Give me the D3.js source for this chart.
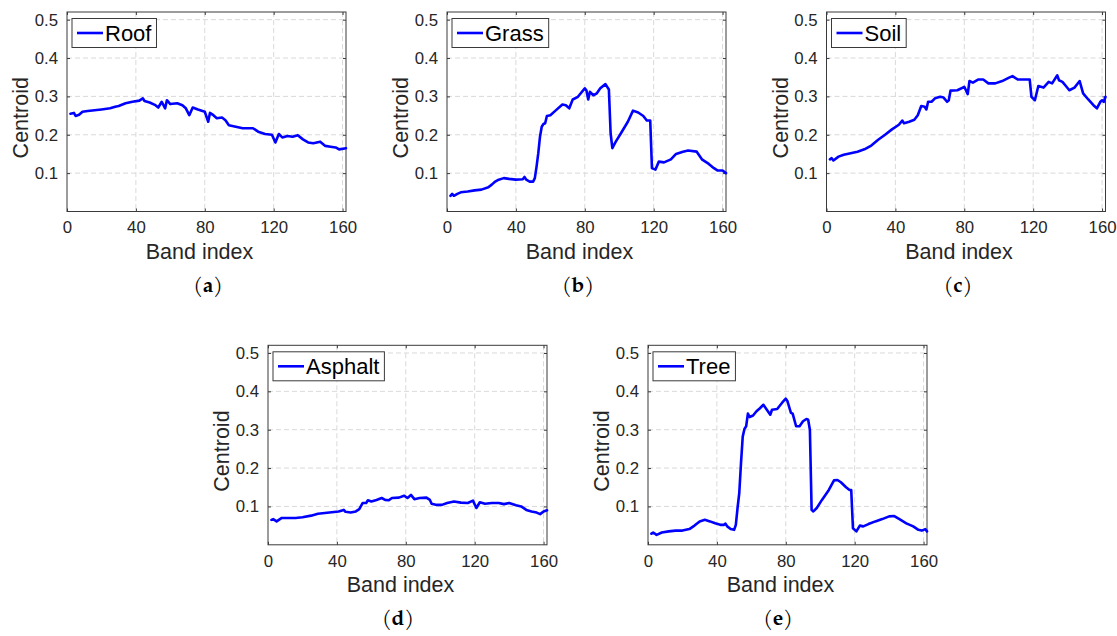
<!DOCTYPE html>
<html>
<head>
<meta charset="utf-8">
<script src="https://cdn.jsdelivr.net/npm/d3@7"></script>
<style>
  html, body { margin: 0; padding: 0; background: #fff; }
  svg { display: block; }
  .tick-label { font-family: "Liberation Sans", Arial, sans-serif; font-size: 16.8px; fill: #262626; }
  .axis-label { font-family: "Liberation Sans", Arial, sans-serif; font-size: 21.5px; fill: #262626; }
  .legend-text { font-family: "Liberation Sans", Arial, sans-serif; font-size: 22px; fill: #000; }
  .caption { font-family: "TeX Gyre Pagella", "Palatino Linotype", "Liberation Serif", serif; font-size: 21px; fill: #000; }
</style>
</head>
<body>
<div id="chart"></div>
<script>
// Band index / centroid pairs
const roof = [
  [2, 0.255], [4, 0.257], [5, 0.249], [7, 0.252], [9, 0.26], [12, 0.262], [16, 0.264], [20, 0.266],
  [25, 0.269], [28, 0.273], [30, 0.275], [34, 0.282], [38, 0.286], [42, 0.289], [44, 0.295], [45, 0.288],
  [48, 0.284], [51, 0.278], [53, 0.271], [55, 0.286], [57, 0.269], [58, 0.29], [60, 0.28], [64, 0.282],
  [67, 0.277], [69, 0.269], [71, 0.251], [73, 0.271], [76, 0.266], [80, 0.26], [82, 0.234], [83, 0.257],
  [85, 0.251], [87, 0.243], [90, 0.245], [92, 0.238], [94, 0.225], [98, 0.221], [102, 0.217], [106, 0.217],
  [108, 0.217], [111, 0.208], [115, 0.202], [119, 0.2], [121, 0.18], [123, 0.202], [125, 0.193], [128, 0.197],
  [131, 0.195], [134, 0.199], [137, 0.188], [140, 0.18], [143, 0.178], [147, 0.182], [150, 0.171], [153, 0.169],
  [156, 0.167], [158, 0.162], [162, 0.165]
];

const grass = [
  [2, 0.041], [3, 0.046], [4, 0.041], [6, 0.046], [8, 0.05], [12, 0.052], [16, 0.055], [20, 0.057],
  [24, 0.063], [26, 0.07], [28, 0.078], [30, 0.083], [33, 0.087], [36, 0.085], [40, 0.083], [44, 0.084],
  [45, 0.09], [46, 0.083], [48, 0.078], [50, 0.078], [51, 0.087], [52, 0.117], [53, 0.152], [54, 0.195],
  [55, 0.221], [56, 0.228], [57, 0.23], [58, 0.249], [60, 0.251], [63, 0.263], [67, 0.279], [69, 0.277],
  [71, 0.269], [73, 0.292], [76, 0.299], [80, 0.321], [81, 0.315], [82, 0.292], [83, 0.312], [85, 0.303],
  [87, 0.308], [89, 0.321], [92, 0.332], [94, 0.318], [95, 0.204], [96, 0.165], [98, 0.182], [101, 0.204],
  [105, 0.234], [108, 0.263], [111, 0.258], [114, 0.249], [116, 0.237], [118, 0.237], [119, 0.113], [121, 0.109],
  [123, 0.13], [126, 0.128], [130, 0.136], [133, 0.15], [137, 0.156], [140, 0.159], [145, 0.156], [148, 0.136],
  [152, 0.124], [155, 0.113], [157, 0.107], [160, 0.107], [162, 0.1]
];

const soil = [
  [2, 0.136], [3, 0.139], [4, 0.133], [7, 0.143], [10, 0.148], [14, 0.152], [18, 0.156], [22, 0.162],
  [26, 0.172], [30, 0.187], [34, 0.2], [38, 0.214], [42, 0.226], [44, 0.237], [45, 0.23], [48, 0.234],
  [51, 0.239], [53, 0.251], [55, 0.275], [57, 0.273], [58, 0.266], [59, 0.286], [61, 0.286], [63, 0.295],
  [66, 0.299], [68, 0.297], [70, 0.286], [71, 0.29], [72, 0.315], [76, 0.316], [80, 0.325], [82, 0.306],
  [83, 0.34], [85, 0.336], [88, 0.344], [91, 0.344], [94, 0.334], [98, 0.334], [102, 0.34], [106, 0.349],
  [108, 0.353], [111, 0.344], [115, 0.344], [118, 0.344], [119, 0.299], [121, 0.29], [123, 0.327], [126, 0.323],
  [129, 0.338], [131, 0.334], [134, 0.355], [135, 0.342], [137, 0.338], [139, 0.327], [141, 0.316], [144, 0.323],
  [147, 0.34], [149, 0.308], [152, 0.292], [155, 0.277], [157, 0.269], [159, 0.286], [160, 0.29], [161, 0.286],
  [162, 0.299]
];

const asphalt = [
  [2, 0.065], [3, 0.067], [5, 0.061], [8, 0.07], [12, 0.07], [16, 0.07], [20, 0.072], [25, 0.076],
  [29, 0.081], [33, 0.083], [37, 0.085], [41, 0.087], [44, 0.091], [45, 0.086], [48, 0.084], [51, 0.087],
  [53, 0.093], [55, 0.109], [57, 0.109], [58, 0.116], [60, 0.113], [63, 0.117], [66, 0.122], [68, 0.117],
  [70, 0.116], [72, 0.122], [76, 0.123], [79, 0.128], [81, 0.122], [83, 0.13], [85, 0.119], [88, 0.122],
  [92, 0.123], [94, 0.117], [95, 0.107], [98, 0.104], [101, 0.104], [104, 0.109], [108, 0.113], [112, 0.11],
  [116, 0.109], [119, 0.115], [121, 0.096], [123, 0.111], [126, 0.107], [130, 0.109], [134, 0.109], [137, 0.106],
  [140, 0.109], [144, 0.103], [147, 0.1], [150, 0.091], [153, 0.087], [156, 0.084], [158, 0.08], [160, 0.087],
  [162, 0.09]
];

const tree = [
  [2, 0.029], [3, 0.032], [5, 0.026], [8, 0.032], [12, 0.035], [16, 0.037], [20, 0.037], [24, 0.041],
  [27, 0.05], [30, 0.061], [33, 0.065], [36, 0.061], [39, 0.056], [42, 0.052], [44, 0.052], [45, 0.055],
  [46, 0.048], [48, 0.041], [50, 0.039], [51, 0.052], [52, 0.096], [53, 0.135], [54, 0.213], [55, 0.282],
  [56, 0.302], [57, 0.309], [58, 0.342], [59, 0.333], [61, 0.337], [63, 0.348], [65, 0.356], [67, 0.365],
  [69, 0.352], [71, 0.339], [72, 0.352], [75, 0.354], [78, 0.371], [80, 0.381], [81, 0.374], [83, 0.344],
  [84, 0.342], [86, 0.309], [88, 0.309], [90, 0.322], [92, 0.328], [93, 0.326], [94, 0.3], [95, 0.091],
  [96, 0.087], [98, 0.096], [101, 0.117], [105, 0.143], [108, 0.168], [110, 0.169], [112, 0.163], [115, 0.15],
  [117, 0.143], [118, 0.143], [119, 0.043], [121, 0.035], [123, 0.05], [125, 0.048], [128, 0.054], [132, 0.061],
  [136, 0.067], [140, 0.074], [143, 0.075], [146, 0.067], [150, 0.056], [154, 0.048], [157, 0.039], [159, 0.037],
  [161, 0.041], [162, 0.035]
];

const xTicks = [0, 40, 80, 120, 160];
const yTicks = [0.1, 0.2, 0.3, 0.4, 0.5];

const panels = [
  { name: 'Roof', data: roof, caption: 'a' },
  { name: 'Grass', data: grass, caption: 'b' },
  { name: 'Soil', data: soil, caption: 'c' },
  { name: 'Asphalt', data: asphalt, caption: 'd' },
  { name: 'Tree', data: tree, caption: 'e' }
];

// Layout
const CHART_CONFIG = {
  width: 1117,
  height: 636,
  plot: { width: 279, height: 199.5 },
  // top-left corner of each plot box and caption centre
  slots: [
    { x: 67, y: 12, cx: 208, cy: 292 },
    { x: 447, y: 12, cx: 578, cy: 292 },
    { x: 826.5, y: 12, cx: 958, cy: 292 },
    { x: 268, y: 345.3, cx: 398, cy: 625 },
    { x: 648, y: 345.3, cx: 778, cy: 625 }
  ],
  xDomain: [0, 162],
  yDomain: [0, 0.52],
  lineColor: '#0000ff',
  axisColor: '#3a3a3a',
  gridColor: '#d9d9d9'
};

const svg = d3.select('#chart').append('svg')
  .attr('width', CHART_CONFIG.width)
  .attr('height', CHART_CONFIG.height);

svg.append('rect')
  .attr('width', CHART_CONFIG.width)
  .attr('height', CHART_CONFIG.height)
  .attr('fill', '#fff');

function drawPanel(panel, slot) {
  const w = CHART_CONFIG.plot.width;
  const h = CHART_CONFIG.plot.height;

  const x = d3.scaleLinear().domain(CHART_CONFIG.xDomain).range([0, w]);
  const y = d3.scaleLinear().domain(CHART_CONFIG.yDomain).range([h, 0]);

  const g = svg.append('g')
    .attr('transform', `translate(${slot.x}, ${slot.y})`);

  // Grid lines
  g.append('g')
    .selectAll('line')
    .data(xTicks.filter(t => t > 0))
    .join('line')
    .attr('x1', d => x(d)).attr('x2', d => x(d))
    .attr('y1', 0).attr('y2', h)
    .attr('stroke', CHART_CONFIG.gridColor)
    .attr('stroke-width', 1)
    .attr('stroke-dasharray', '5,3');

  g.append('g')
    .selectAll('line')
    .data(yTicks)
    .join('line')
    .attr('x1', 0).attr('x2', w)
    .attr('y1', d => y(d)).attr('y2', d => y(d))
    .attr('stroke', CHART_CONFIG.gridColor)
    .attr('stroke-width', 1)
    .attr('stroke-dasharray', '5,3');

  // Axes with inward ticks on all four sides
  const styleAxis = sel => {
    sel.select('.domain').remove();
    sel.selectAll('.tick line').attr('stroke', CHART_CONFIG.axisColor);
  };

  g.append('g')
    .attr('transform', `translate(0, ${h})`)
    .call(d3.axisBottom(x).tickValues(xTicks).tickSize(-3).tickFormat(d3.format('d')))
    .call(styleAxis)
    .call(a => a.selectAll('.tick text').attr('class', 'tick-label').attr('font-size', null).attr('font-family', null)
      .attr('dy', null).attr('y', 21.8));

  g.append('g')
    .call(d3.axisTop(x).tickValues(xTicks).tickSize(-3).tickFormat(''))
    .call(styleAxis);

  g.append('g')
    .call(d3.axisLeft(y).tickValues(yTicks).tickSize(-3).tickPadding(9).tickFormat(d3.format('.1f')))
    .call(styleAxis)
    .call(a => a.selectAll('.tick text').attr('class', 'tick-label').attr('font-size', null).attr('font-family', null));

  g.append('g')
    .attr('transform', `translate(${w}, 0)`)
    .call(d3.axisRight(y).tickValues(yTicks).tickSize(-3).tickFormat(''))
    .call(styleAxis);

  g.selectAll('.tick text').attr('fill', null);

  // Box
  g.append('rect')
    .attr('width', w)
    .attr('height', h)
    .attr('fill', 'none')
    .attr('stroke', CHART_CONFIG.axisColor)
    .attr('stroke-width', 1);

  // Series line
  const line = d3.line()
    .x(d => x(d[0]))
    .y(d => y(d[1]));

  g.append('path')
    .datum(panel.data)
    .attr('d', line)
    .attr('fill', 'none')
    .attr('stroke', CHART_CONFIG.lineColor)
    .attr('stroke-width', 2.6)
    .attr('stroke-linejoin', 'round')
    .attr('stroke-linecap', 'round');

  // Legend
  const legend = g.append('g').attr('transform', 'translate(5, 6.5)');
  const box = legend.append('rect')
    .attr('height', 29)
    .attr('fill', '#fff')
    .attr('stroke', CHART_CONFIG.axisColor)
    .attr('stroke-width', 1);

  legend.append('line')
    .attr('x1', 5).attr('x2', 31)
    .attr('y1', 14.5).attr('y2', 14.5)
    .attr('stroke', CHART_CONFIG.lineColor)
    .attr('stroke-width', 2.6);

  const label = legend.append('text')
    .attr('class', 'legend-text')
    .attr('x', 33)
    .attr('y', 22.5)
    .text(panel.name);

  box.attr('width', 33 + label.node().getComputedTextLength() + 5);

  // Axis labels
  g.append('text')
    .attr('class', 'axis-label')
    .attr('text-anchor', 'middle')
    .attr('x', w / 2 - 7)
    .attr('y', h + 47)
    .text('Band index');

  g.append('text')
    .attr('class', 'axis-label')
    .attr('text-anchor', 'middle')
    .attr('transform', `translate(-39, ${h / 2 + 6}) rotate(-90)`)
    .text('Centroid');

  // Caption
  const cap = svg.append('text')
    .attr('class', 'caption')
    .attr('text-anchor', 'middle')
    .attr('x', slot.cx)
    .attr('y', slot.cy);
  cap.append('tspan').text('(');
  cap.append('tspan').attr('font-weight', 'bold').text(panel.caption);
  cap.append('tspan').text(')');
}

panels.forEach((p, i) => drawPanel(p, CHART_CONFIG.slots[i]));
</script>
</body>
</html>
